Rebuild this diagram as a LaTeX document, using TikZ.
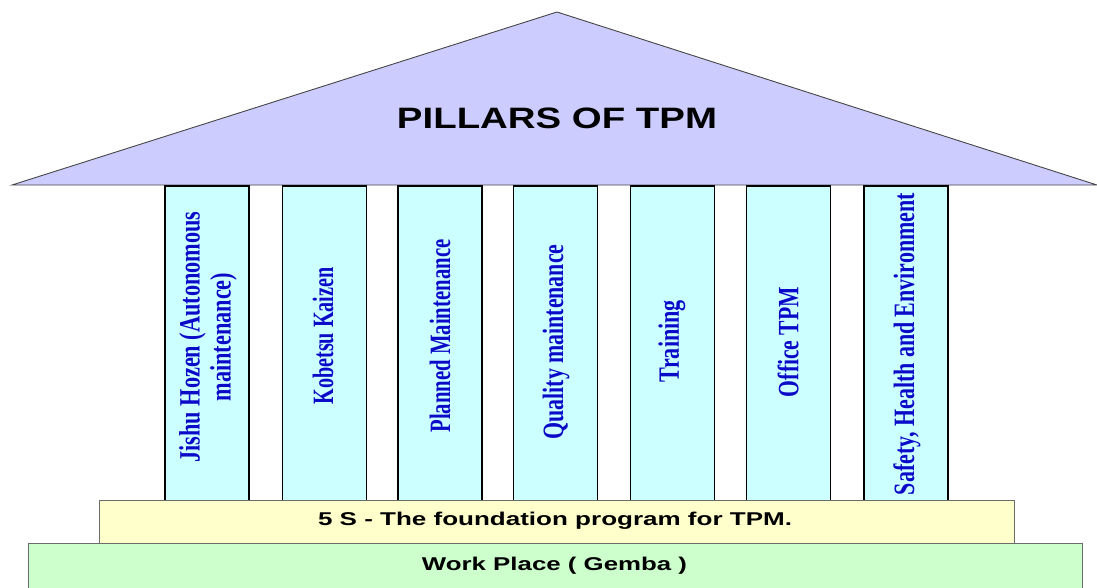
\documentclass[tikz,border=0pt]{standalone}
\usepackage{fontspec}
\setmainfont{Liberation Serif}
\setsansfont{Liberation Sans}
\usepackage{graphicx}
\definecolor{roofc}{RGB}{204,204,255}
\definecolor{pillarc}{RGB}{204,255,255}
\definecolor{fivesc}{RGB}{255,255,204}
\definecolor{gembac}{RGB}{204,255,204}
\definecolor{pillartext}{RGB}{10,10,200}
\definecolor{edgec}{RGB}{70,70,70}
\tikzset{
  roof/.style={fill=roofc, draw=edgec, line width=0.9pt},
  pillarbox/.style={fill=pillarc, draw=black, line width=1.1pt, minimum width=84pt, minimum height=315pt, inner sep=0pt},
  bandbox/.style={draw=edgec!80, line width=0.9pt, inner sep=0pt},
  ptext/.style={inner sep=0pt, text=pillartext, font=\fontsize{29.5}{31}\selectfont\bfseries},
  stext/.style={inner sep=0pt, text=black, font=\sffamily\bfseries}
}
\newcommand{\ptxt}[2]{\rotatebox{90}{\resizebox{#1pt}{\height}{#2}}}
\newcommand{\stxt}[2]{\resizebox{#1pt}{\height}{#2}}
\begin{document}
\begin{tikzpicture}[x=1pt,y=-1pt]
\useasboundingbox (0,0) rectangle (1097,587);
\clip (0,0) rectangle (1097,587);
% roof
\coordinate (apex) at (557,12);
\coordinate (rl) at (12,185);
\coordinate (rr) at (1097,185);
\draw[roof] (rl) -- (apex) -- (rr) -- cycle;
\node[stext, font=\sffamily\bfseries\fontsize{29.5}{30}\selectfont] (title) at (557,118) {\stxt{320}{PILLARS OF TPM}};
% pillars
\node[pillarbox] (p1) at (207,343.5) {};
\node[pillarbox] (p2) at (324.5,343.5) {};
\node[pillarbox] (p3) at (440,343.5) {};
\node[pillarbox] (p4) at (555.5,343.5) {};
\node[pillarbox] (p5) at (672.5,343.5) {};
\node[pillarbox] (p6) at (788.5,343.5) {};
\node[pillarbox] (p7) at (906,343.5) {};
% pillar texts
\node[ptext] (t1) at (209,337) {\ptxt{251}{\begin{tabular}{@{}c@{}}Jishu Hozen (Autonomous\\maintenance)\end{tabular}}};
\node[ptext] (t2) at (323,336) {\ptxt{137}{Kobetsu Kaizen}};
\node[ptext] (t3) at (440,336) {\ptxt{193}{Planned Maintenance}};
\node[ptext] (t4) at (556,342) {\ptxt{195}{Quality maintenance}};
\node[ptext] (t5) at (672,341) {\ptxt{82}{Training}};
\node[ptext] (t6) at (788,342) {\ptxt{110}{Office TPM}};
\node[ptext] (t7) at (907,344) {\ptxt{302}{Safety, Health and Environment}};
% 5S band
\node[bandbox, fill=fivesc, minimum width=915pt, minimum height=43pt] (fives) at (556.5,521.5) {};
\node[stext, font=\sffamily\bfseries\fontsize{18.5}{19}\selectfont] (fivest) at (555,521) {\stxt{474}{5 S - The foundation program for TPM.}};
% Gemba band
\node[bandbox, fill=gembac, minimum width=1054pt, minimum height=50pt] (gemba) at (555,568) {};
\node[stext, font=\sffamily\bfseries\fontsize{18.5}{19}\selectfont] (gembat) at (554.5,566) {\stxt{265}{Work Place ( Gemba )}};
\end{tikzpicture}
\end{document}
